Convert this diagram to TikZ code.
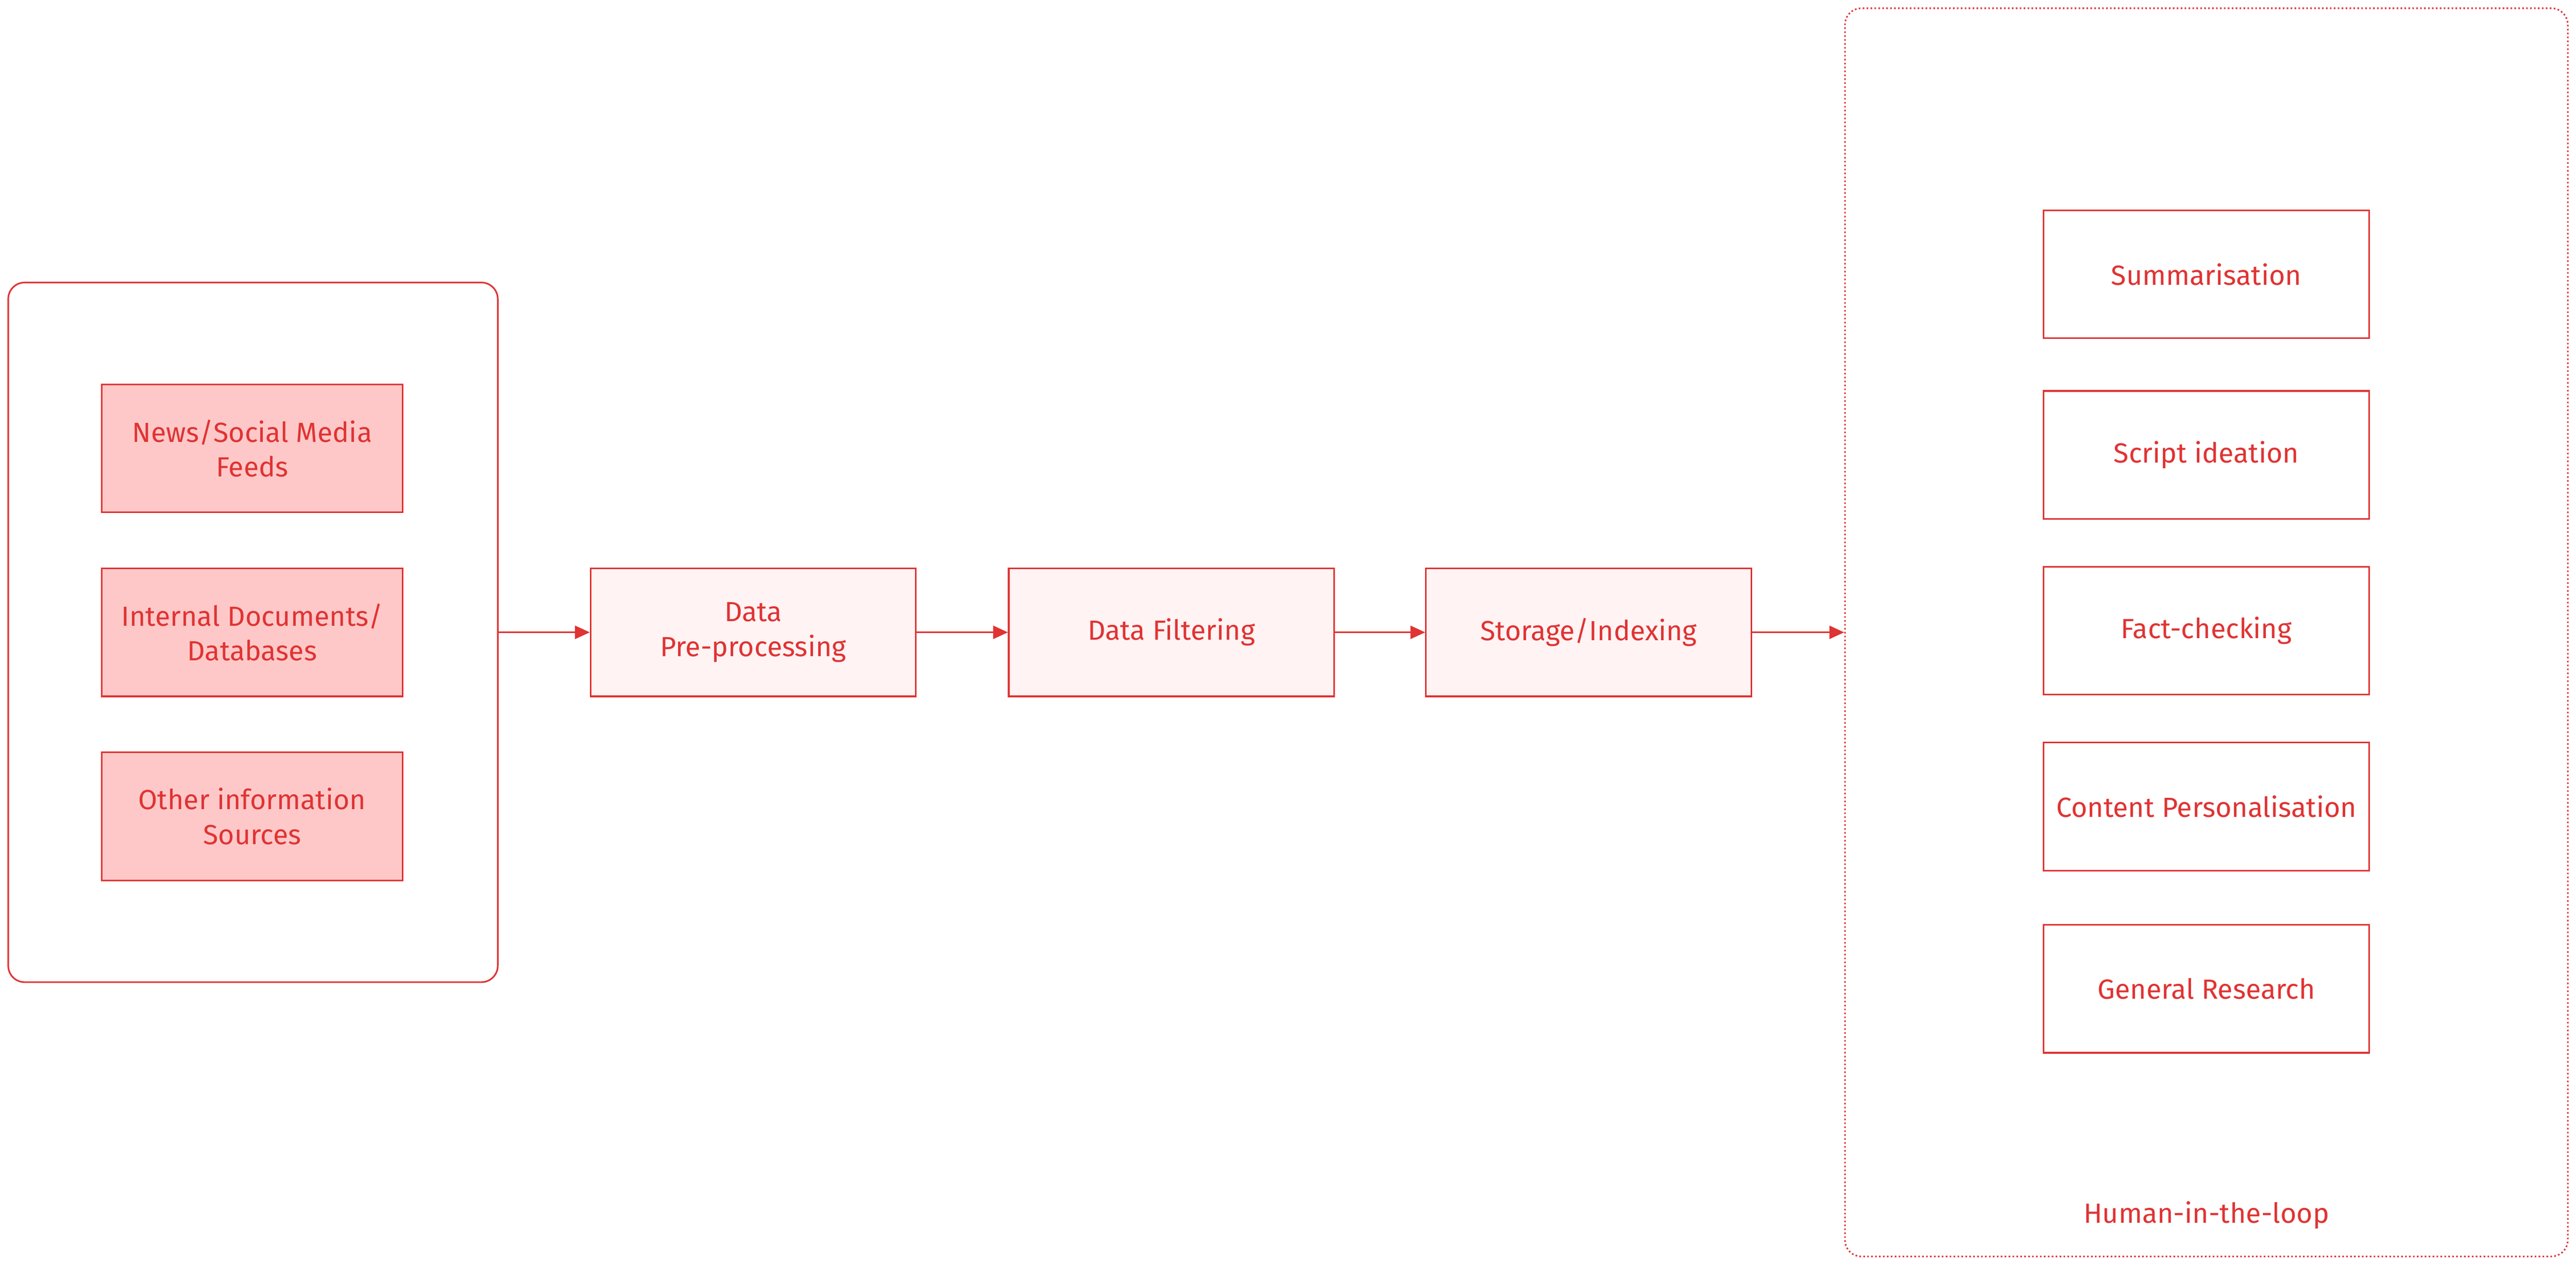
\documentclass[tikz,border=0pt]{standalone}
\usepackage{fontspec}
\setmainfont{Fira Sans}
\usetikzlibrary{arrows.meta,positioning}
\definecolor{rline}{HTML}{E03333}
\definecolor{srcfill}{HTML}{FFC8C8}
\definecolor{stepfill}{HTML}{FFF3F3}
\tikzset{
  box/.style={rectangle, draw=rline, line width=1.4pt, text=rline,
    minimum width=9.9cm, minimum height=3.9cm, align=center,
    font=\fontsize{24}{30}\selectfont},
  srcbox/.style={box, fill=srcfill, minimum width=9.15cm},
  stepbox/.style={box, fill=stepfill},
  taskbox/.style={box, fill=white},
  group/.style={rectangle, rounded corners=0.5cm, draw=rline, line width=1.4pt,
    minimum width=#1},
}
\begin{document}
\begin{tikzpicture}[x=0.05cm,y=-0.05cm,-{Triangle[length=0.45cm,width=0.4cm]},rline,line width=1.4pt]

    \useasboundingbox (0,0) rectangle (1568,770);

    % sources
    \node[group=14.9cm, minimum height=21.3cm, -] (src) at (154,385) {};
    \node[srcbox] (news) at (153.5,273) {News/Social Media\\Feeds};
    \node[srcbox] (docs) at (153.5,385) {Internal Documents/\\Databases};
    \node[srcbox] (other) at (153.5,497) {Other information\\Sources};

    % pipeline
    \node[stepbox] (pre) at (458.5,385) {Data\\Pre-processing};
    \node[stepbox] (filt) at (713,385) {Data Filtering};
    \node[stepbox] (store) at (967,385) {Storage/Indexing};

    % human-in-the-loop
    \node[group=22cm, minimum height=38cm, dotted, -] (hitl) at (1343,385) {};
    \node[taskbox] (summ) at (1343,167) {Summarisation};
    \node[taskbox] (script) at (1343,277) {Script ideation};
    \node[taskbox] (fact) at (1343,384) {Fact-checking};
    \node[taskbox] (pers) at (1343,491) {Content Personalisation};
    \node[taskbox] (gen) at (1343,602) {General Research};
    \node[text=rline, font=\fontsize{24}{30}\selectfont] (hlab) at (1343,740) {Human-in-the-loop};

    \draw (src.east) -- (pre.west);
    \draw (pre) -- (filt);
    \draw (filt) -- (store);
    \draw (store.east) -- (hitl.west);

\end{tikzpicture}
\end{document}
